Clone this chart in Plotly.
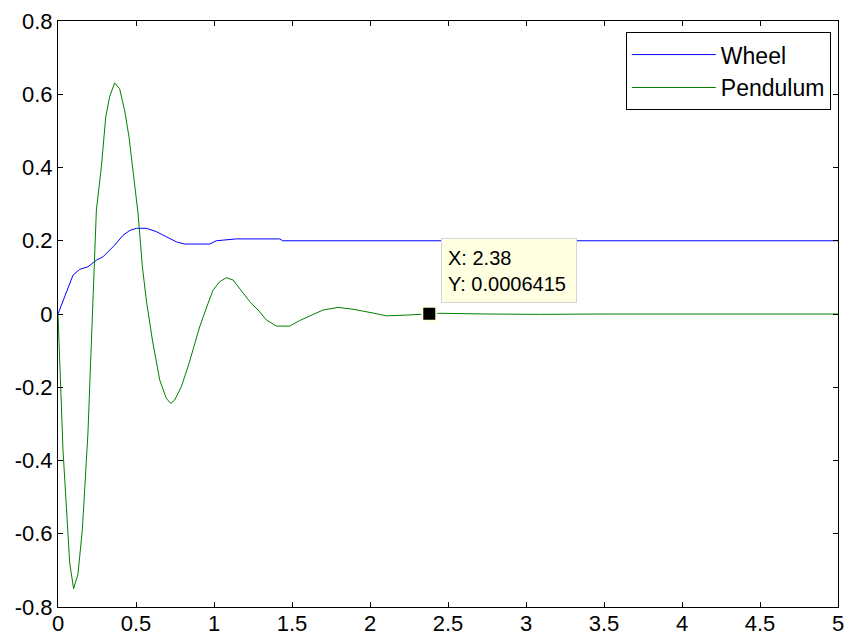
import plotly.graph_objects as go

wheel_x = [0, 0.075, 0.096, 0.139, 0.192, 0.246, 0.288, 0.363, 0.417, 0.46, 0.502, 0.566, 0.630,
           0.694, 0.759, 0.812, 0.972, 1.015, 1.143, 1.421, 1.44, 5]
wheel_y = [0, 0.084, 0.106, 0.122, 0.129, 0.147, 0.156, 0.188, 0.215, 0.228, 0.234, 0.234, 0.225,
           0.211, 0.197, 0.191, 0.191, 0.2, 0.205, 0.205, 0.2, 0.2]

pend_x = [0, 0.032, 0.075, 0.1, 0.128, 0.156, 0.192, 0.22, 0.246, 0.278, 0.306, 0.331, 0.363, 0.395,
          0.427, 0.455, 0.481, 0.513, 0.541, 0.566, 0.605, 0.652, 0.694, 0.722, 0.748, 0.791, 0.840,
          0.908, 0.962, 0.994, 1.036, 1.079, 1.122, 1.229, 1.282, 1.335, 1.4, 1.485, 1.549, 1.699,
          1.795, 1.891, 2.019, 2.104, 2.232, 2.38, 2.446, 2.745, 3.087, 3.5, 4, 4.5, 5]
pend_y = [0, -0.371, -0.68, -0.75, -0.71, -0.589, -0.325, 0.0, 0.284, 0.402, 0.538, 0.593, 0.631, 0.615,
          0.556, 0.484, 0.384, 0.275, 0.129, 0.038, -0.071, -0.18, -0.23, -0.244, -0.235, -0.198, -0.135,
          -0.035, 0.029, 0.065, 0.088, 0.099, 0.093, 0.034, 0.011, -0.016, -0.033, -0.033, -0.018, 0.011,
          0.018, 0.013, 0.0027, -0.005, -0.003, 0.0006415, 0.002, 0.0, -0.001, 0.0, 0.0, 0.0, 0.0]

tip_x = [2.38]
tip_y = [0.0006415]

x_ticks = [0, 0.5, 1, 1.5, 2, 2.5, 3, 3.5, 4, 4.5, 5]
x_labels = ["0", "0.5", "1", "1.5", "2", "2.5", "3", "3.5", "4", "4.5", "5"]
y_ticks = [-0.8, -0.6, -0.4, -0.2, 0, 0.2, 0.4, 0.6, 0.8]
y_labels = ["-0.8", "-0.6", "-0.4", "-0.2", "0", "0.2", "0.4", "0.6", "0.8"]

font = "Liberation Sans, Arial, sans-serif"

fig = go.Figure()
fig.add_trace(go.Scatter(x=wheel_x, y=wheel_y, mode="lines", name="Wheel",
                         line=dict(color="#0000ff", width=1)))
fig.add_trace(go.Scatter(x=pend_x, y=pend_y, mode="lines", name="Pendulum",
                         line=dict(color="#008000", width=1)))
fig.add_trace(go.Scatter(x=tip_x, y=tip_y, mode="markers", showlegend=False,
                         marker=dict(symbol="square", size=14, color="black",
                                     line=dict(color="#ffffe1", width=2))))

fig.add_annotation(x=tip_x[0], y=tip_y[0], xref="x", yref="y",
                   text="X: 2.38<br>Y: 0.0006415", showarrow=False,
                   xanchor="left", yanchor="bottom", xshift=12, yshift=11,
                   width=122, height=51,
                   align="left", valign="middle", bgcolor="#ffffe1", bordercolor="#d4d4d4", borderwidth=1,
                   borderpad=6, font=dict(family=font, size=20, color="black"))

axis_common = dict(showgrid=False, zeroline=False, showline=True, linecolor="black", linewidth=1,
                   mirror="ticks", ticks="inside", ticklen=5, tickcolor="black", tickwidth=1,
                   automargin=False,
                   tickfont=dict(family=font, size=22, color="black"))

fig.update_xaxes(range=[0, 5], tickvals=x_ticks, ticktext=x_labels, ticklabelstandoff=-3, **axis_common)
fig.update_yaxes(range=[-0.8, 0.8], tickvals=y_ticks, ticktext=y_labels, **axis_common)

fig.update_layout(
    width=856, height=639,
    margin=dict(l=58, r=18, t=21, b=32),
    paper_bgcolor="white", plot_bgcolor="white",
    font=dict(family=font, size=22, color="black"),
    legend=dict(x=0.728, y=0.981, xanchor="left", yanchor="top", itemwidth=84,
                bgcolor="white", bordercolor="black", borderwidth=1,
                font=dict(family=font, size=23, color="black")),
)

fig.write_html("out.html")
